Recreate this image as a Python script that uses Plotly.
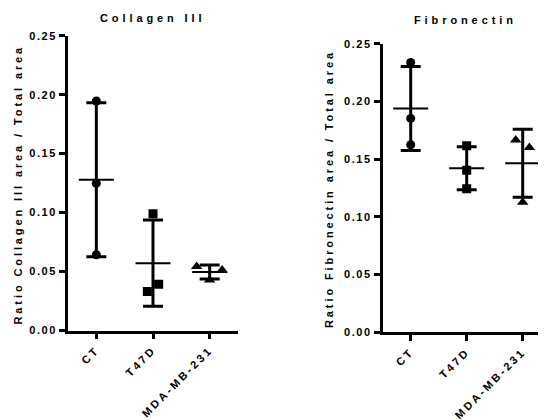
import numpy as np
import plotly.graph_objects as go

# ---- data ----
categories = ["CT", "T47D", "MDA-MB-231"]
collagen_ct = [0.1946, 0.1248, 0.0642]
collagen_t47d = [0.0991, 0.0393, 0.0330]
collagen_mda = [0.0543, 0.0514, 0.0429]
fibronectin_ct = [0.2338, 0.1853, 0.1625]
fibronectin_t47d = [0.1616, 0.1403, 0.1244]
fibronectin_mda = [0.1665, 0.1600, 0.1126]
y_tick_values = [0, 0.05, 0.10, 0.15, 0.20, 0.25]
y_tick_labels = ["0.00", "0.05", "0.10", "0.15", "0.20", "0.25"]

# ---- style (scatter spread within each column, in category units) ----
spread_left = [[0, 0, 0], [0, 0.1, -0.1], [-0.23, 0.22, 0]]
spread_right = [[0, 0, 0], [0, 0, 0], [-0.125, 0.12, 0]]
symbols = ["circle", "square", "triangle-up"]
sizes = [9, 9, 10]
FONT = "Liberation Sans, Arial, sans-serif"
W, H, OFF = 546, 420, 8  # page body margin offset


def xp(px):
    return (px - OFF) / W


def yp(py):
    return 1 - (py - OFF) / H


def sp(text, ls=2):
    return f'<span style="letter-spacing:{ls}px"><b>{text}</b></span>'


fig = go.Figure()


def add_panel(groups, spread, xa, ya):
    for i, vals in enumerate(groups):
        vals = np.array(vals)
        m = vals.mean()
        sd = vals.std(ddof=1)
        # error bar (mean ± SD)
        fig.add_trace(go.Scatter(
            x=[i], y=[m], mode="markers", xaxis=xa, yaxis=ya,
            marker=dict(size=1, color="rgba(0,0,0,0)"),
            error_y=dict(type="data", array=[sd], visible=True,
                         color="black", thickness=3, width=10),
            showlegend=False, hoverinfo="skip"))
        # mean line
        fig.add_trace(go.Scatter(
            x=[i], y=[m], mode="markers", xaxis=xa, yaxis=ya,
            marker=dict(symbol="line-ew", size=25,
                        line=dict(width=2, color="black")),
            showlegend=False, hoverinfo="skip"))
        # points
        fig.add_trace(go.Scatter(
            x=[i + d for d in spread[i]], y=vals, mode="markers",
            xaxis=xa, yaxis=ya,
            marker=dict(symbol=symbols[i], size=sizes[i], color="black",
                        line=dict(width=0)),
            showlegend=False))


add_panel([collagen_ct, collagen_t47d, collagen_mda], spread_left, "x", "y")
add_panel([fibronectin_ct, fibronectin_t47d, fibronectin_mda], spread_right, "x2", "y2")

xcommon = dict(tickmode="array", tickvals=[0, 1, 2],
               ticktext=[sp(c, 2.7) for c in categories], tickangle=-45,
               showline=True, linecolor="black", linewidth=2.5,
               ticks="outside", ticklen=6, tickwidth=2.5, tickcolor="black",
               showgrid=False, zeroline=False, automargin=False,
               range=[-0.5, 2.5],
               tickfont=dict(family=FONT, size=11, color="black"))
ycommon = dict(tickmode="array", tickvals=y_tick_values,
               ticktext=[sp(t, 1.6) for t in y_tick_labels],
               showline=True, linecolor="black", linewidth=2.5,
               ticks="outside", ticklen=6, tickwidth=2.5, tickcolor="black",
               showgrid=False, zeroline=False, range=[0, 0.25], automargin=False,
               tickfont=dict(family=FONT, size=11, color="black"))

ann = dict(xref="paper", yref="paper", showarrow=False,
           xanchor="center", yanchor="middle",
           font=dict(family=FONT, size=11, color="black"))

fig.update_layout(
    width=W, height=H,
    margin=dict(l=0, r=0, t=0, b=0),
    paper_bgcolor="white", plot_bgcolor="white",
    xaxis=dict(xcommon, domain=[xp(68), xp(238)], anchor="y"),
    yaxis=dict(ycommon, domain=[yp(330.5), yp(35.7)], anchor="x"),
    xaxis2=dict(xcommon, domain=[xp(382.7), xp(550.7)], anchor="y2"),
    yaxis2=dict(ycommon, domain=[yp(332.3), yp(43.7)], anchor="x2"),
    annotations=[
        dict(ann, text=sp("Collagen III", 3.9), x=xp(152), y=yp(17.7)),
        dict(ann, text=sp("Fibronectin", 3.9), x=xp(465), y=yp(19.5)),
        dict(ann, text=sp("Ratio Collagen III area / Total area", 2.9),
             x=xp(17), y=yp(184.5), textangle=-90),
        dict(ann, text=sp("Ratio Fibronectin area / Total area", 2.9),
             x=xp(329), y=yp(189), textangle=-90),
    ],
)

fig.write_html("out.html")
